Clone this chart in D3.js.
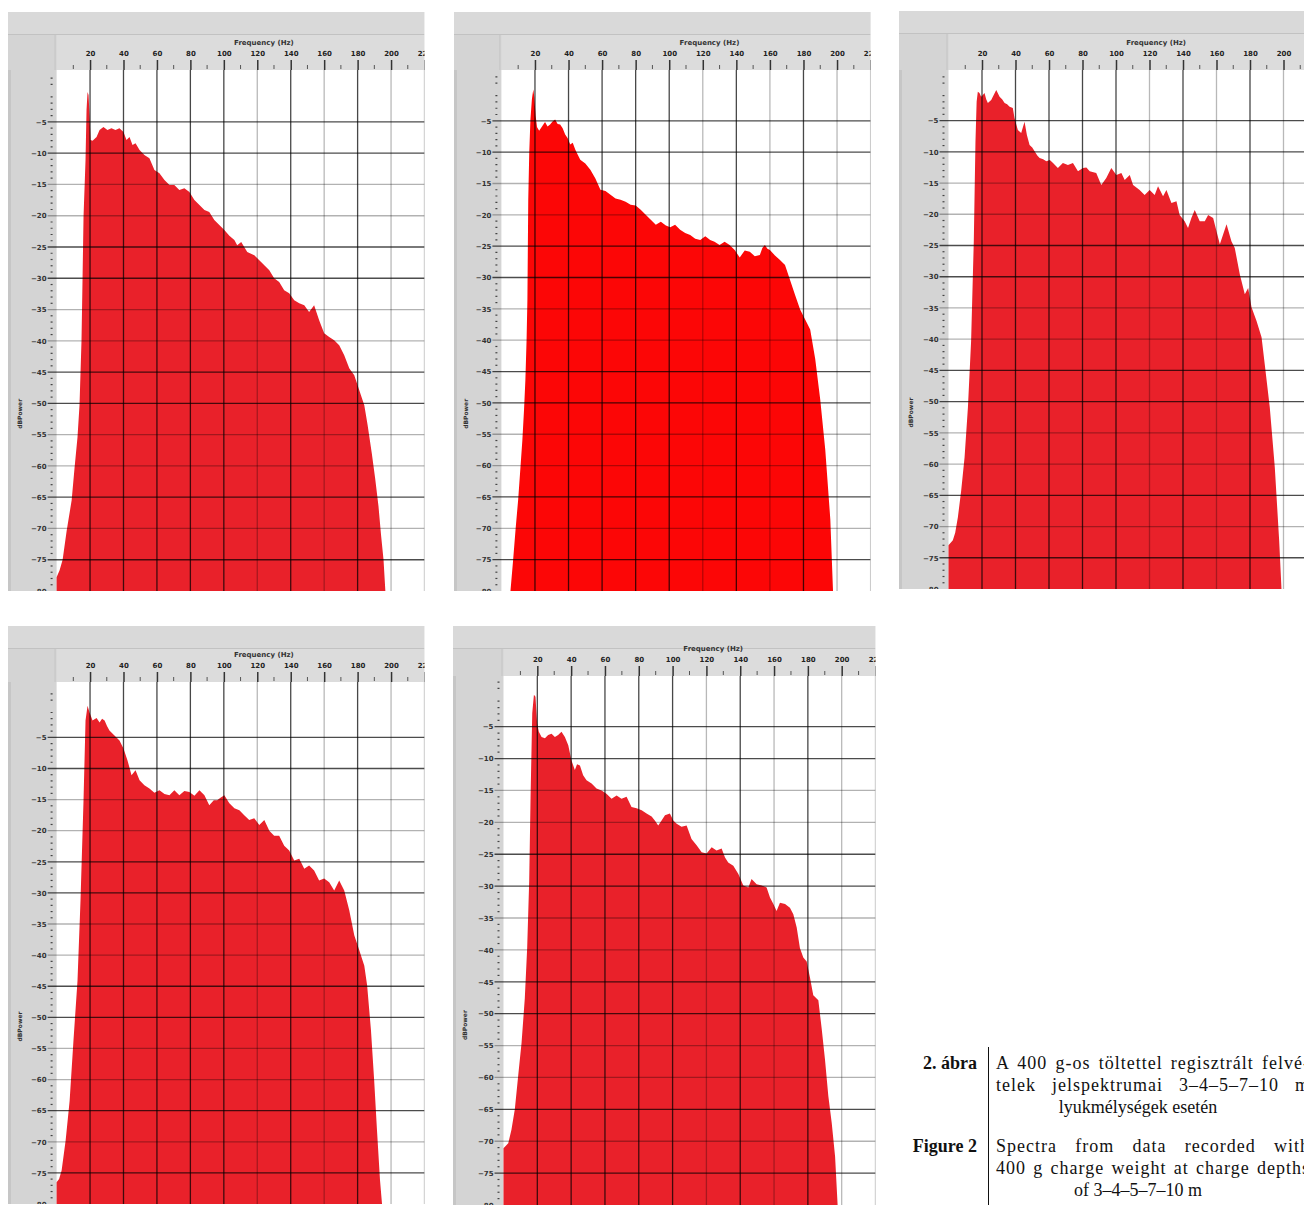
<!DOCTYPE html>
<html>
<head>
<meta charset="utf-8">
<script src="https://cdn.jsdelivr.net/npm/d3@7"></script>
<style>
  body { margin: 0; background: #fff; }
  svg { display: block; }
</style>
</head>
<body>
<script>
// spectra, [frequency Hz, dB power]
let spectrum3m = [[0,-77.8],[1.8,-76.7],[3.6,-75],[6,-70.4],[9,-65.5],[10.7,-60.4],[12.5,-55.4],[13.7,-50.3],[14.3,-45.2],[14.9,-39.9],[15.5,-30.3],[16.1,-20.2],[17.3,-11.1],[17.9,-3.1],[18.5,-0.2],[19.1,-0.7],[19.7,-3.9],[20.3,-7.9],[21.5,-8],[23.9,-7.4],[25.7,-6.3],[28,-5.8],[30.4,-6.3],[32.8,-6],[35.2,-6.3],[37.6,-6],[40,-6.6],[41.8,-7.9],[43.6,-7.4],[45.4,-8.7],[47.2,-8.4],[49.6,-9.5],[52.5,-10.3],[55.5,-10.8],[58.5,-12.7],[61.5,-13.2],[64.5,-14.3],[67.5,-15.1],[70.4,-15.1],[73.4,-15.9],[76.4,-15.6],[79.4,-16.2],[82.4,-17.5],[85.4,-18.3],[88.4,-19.1],[91.3,-19.4],[94.3,-20.7],[97.3,-21.5],[100.3,-22.3],[103.3,-23.2],[106.3,-23.9],[108,-24.7],[110.4,-24.2],[114,-25.8],[118.2,-26.3],[121.2,-27.1],[124.2,-27.9],[127.2,-28.7],[130.1,-30],[133.1,-30.6],[136.1,-31.9],[139.1,-32.4],[142.1,-33.5],[145.1,-34],[148.1,-34.3],[151,-35.4],[154,-34.3],[157,-36.7],[160,-38.8],[163,-39.4],[166,-39.9],[169,-40.7],[172,-42.3],[175,-44.4],[178,-45.5],[181,-47.9],[184,-50.3],[186,-53.5],[188.5,-58],[190.5,-62],[192.5,-66.5],[194,-71],[195.5,-75],[196.6,-80]];

let spectrum4m = [[5.4,-80],[7,-75],[8.5,-70],[10,-65.4],[11.3,-60.5],[12.5,-55.9],[13.5,-51],[14.3,-46.3],[15,-40],[15.5,-33.5],[16,-17.6],[16.6,-10],[17.3,-4.8],[18.2,-1.5],[19,0],[19.6,-1.2],[20.4,-4.2],[21.2,-6],[22.5,-6.6],[24,-6],[26,-5.2],[27.5,-5.9],[29,-5.6],[30.5,-5.1],[32,-4.8],[33.5,-5.5],[35,-5.6],[36.5,-6.2],[38,-7.2],[39.5,-7.8],[41,-8.8],[42.5,-8.5],[44,-9.6],[45.5,-10.4],[47,-11.2],[50,-11.8],[53,-12.8],[56,-14.2],[59,-16],[62,-16.2],[65,-16.8],[68,-17.4],[71,-17.6],[74,-17.9],[77,-18.4],[80,-18.5],[83,-19.2],[86,-20],[89,-20.8],[92,-21.6],[95,-21.1],[98,-21.7],[100.6,-22],[103.5,-21.6],[106.5,-22.4],[109.5,-22.9],[112.5,-23.2],[115.5,-23.8],[118.5,-24],[121.5,-23.4],[124.4,-24],[127,-24.3],[130,-24.8],[133,-24.3],[136,-24.8],[139,-25.6],[142,-26.8],[145,-25.7],[148,-25.9],[151,-26.6],[154,-26.4],[155.5,-25.3],[157,-24.8],[158.5,-25.4],[160,-25.6],[163,-26.5],[166,-27.2],[169,-28],[172,-30.4],[175,-32.8],[178,-35.1],[181,-36.7],[184,-38.3],[187,-43],[190,-49.5],[193,-57.5],[196,-68.6],[197.6,-80]];

let spectrum5m = [[0,-73],[2.6,-72.2],[4,-71],[5.6,-68.5],[7.6,-64.2],[9.6,-58.9],[11.6,-50.9],[13.5,-40.3],[15.1,-24.3],[16.1,-8.4],[16.8,-2],[17.5,-0.4],[18.5,-0.6],[19.5,-1.2],[20.5,-0.9],[21.5,-0.6],[22.5,-1.6],[23.5,-2.2],[25.5,-1.7],[27,-0.9],[28.5,-0.1],[30.5,-1.2],[32,-1.6],[33.5,-2.2],[35,-2.4],[36.5,-2.8],[38.4,-3],[39.4,-4.6],[41.4,-6.5],[43.4,-7],[45.4,-5.2],[46.8,-7.3],[48.4,-8.9],[50,-9.3],[51.4,-9.9],[53,-10.6],[54.4,-11],[56.5,-11.2],[58.4,-11.5],[60.5,-11.3],[62.4,-11.8],[65.3,-12.6],[68.3,-11.8],[71.3,-12.1],[74.3,-11.8],[77.3,-13.1],[80.3,-12.6],[82.3,-12.5],[84.3,-13.1],[88.2,-13.4],[91.2,-15.3],[94.2,-14.2],[97.2,-12.6],[100.2,-13.7],[103.2,-13.4],[105.2,-14.5],[108.2,-13.7],[110.2,-15.3],[114.1,-16.1],[117.1,-16.9],[120.1,-16.1],[123.1,-16.9],[125.1,-15.5],[128.1,-17.1],[130.1,-16.1],[133.1,-18.2],[136.1,-17.9],[138,-20.1],[141,-21.1],[143,-22.2],[145,-20.6],[147,-19.3],[150,-21.1],[153,-21.1],[155,-20.1],[158,-20.6],[160,-22.7],[162,-24.8],[164,-23.2],[166,-21.6],[168.9,-24.3],[170.9,-25.4],[173.9,-29.6],[176.9,-32.8],[178.9,-31.8],[180.9,-34.9],[183.9,-37.1],[186.9,-39.7],[188.8,-44],[191.8,-50.9],[194.8,-60.5],[197.4,-72.2],[198.8,-80]];

let spectrum7m = [[0,-76.5],[1.5,-76],[3,-74.6],[5.4,-69.8],[7.8,-63.4],[10.1,-53.7],[12.5,-44.1],[14.3,-31.2],[16.1,-15.1],[17.3,-2.3],[18.5,0.1],[19.7,-1],[21.5,-2.3],[23.9,-1.9],[25.7,-2.6],[27.2,-2],[28.7,-2.3],[30.2,-3.2],[31.6,-3.9],[34.6,-4.7],[37.6,-5.5],[40,-6.8],[42.4,-8.7],[44.8,-11.1],[47.2,-10.3],[49.6,-11.9],[52.5,-12.7],[55.5,-13.2],[58.5,-13.9],[61.5,-13.5],[64.5,-14.1],[67.5,-14.3],[70.4,-13.5],[73.4,-14.3],[76.4,-13.6],[79.4,-13.8],[82.4,-14.4],[85.4,-13.5],[88.4,-14.3],[91.3,-15.9],[94,-15.1],[96,-15.1],[98,-14.7],[100.3,-14.3],[103.3,-15.6],[106.3,-16.4],[109.3,-16.7],[112.2,-17.5],[115.2,-18.3],[118.2,-18],[121.2,-19.1],[124.2,-18.3],[127.2,-20],[130.1,-20.8],[133.1,-20.8],[136.1,-22.4],[139.1,-23.2],[142.1,-24.8],[145.1,-24.5],[148.1,-26.1],[151,-25.6],[154,-26.4],[157,-28],[160,-27.7],[163,-28.3],[166,-29.6],[169,-28],[172,-29.6],[175,-32.8],[178,-36.8],[181,-39.2],[184,-41.7],[185.7,-44.9],[188,-52.1],[189.9,-60.1],[191.6,-68.2],[193.4,-76.2],[194.6,-80]];

let spectrum10m = [[0,-71.1],[2.8,-70.3],[4.7,-68.2],[6.7,-65],[8.7,-59.7],[10.7,-54.5],[12.6,-47.6],[14,-39.7],[15.2,-29.2],[16,-16.1],[17,-2.9],[18,0],[18.9,-0.3],[19.9,-4.5],[20.9,-5.8],[22.5,-6.6],[24.5,-6.8],[26.4,-6.3],[28.4,-6.1],[30.4,-6.6],[32.3,-6.3],[34.3,-5.8],[36.3,-6.6],[38.3,-7.9],[40.2,-10.3],[42.2,-11.8],[43.5,-10.9],[45.2,-11.1],[47.1,-12.6],[49.1,-13.4],[52.1,-13.9],[55,-14.7],[58,-15],[60.9,-15.5],[63.9,-16.3],[66.9,-15.8],[69.8,-16.3],[72.8,-16],[75.7,-17.6],[78.7,-17.8],[81.7,-18.1],[84.6,-18.6],[87.6,-19.1],[89.5,-19.7],[91.5,-20.5],[93.5,-19.7],[95.5,-18.9],[98.4,-18.6],[100.4,-19.7],[102.4,-20.2],[105.3,-20.7],[108.3,-20.5],[111.2,-22.6],[114.2,-23.6],[117.2,-24.7],[120.1,-24.9],[123.1,-23.9],[126,-24.4],[129,-24.1],[131,-25.5],[132.9,-26.3],[135.9,-26.8],[138.9,-28.1],[141.8,-29.9],[144.8,-30.2],[146.7,-28.9],[149.7,-29.7],[152.7,-29.9],[155.6,-30.2],[157.6,-31.8],[159.6,-32.8],[161.5,-33.9],[163.5,-32.6],[166.5,-32.8],[169.4,-33.4],[171.4,-34.4],[173.4,-36.5],[175.3,-39.7],[177.3,-41.2],[179.3,-41.8],[181.3,-44.4],[183.2,-47.1],[186.2,-47.9],[188.2,-52.4],[190.1,-57.1],[192.1,-62.9],[194.1,-67.1],[196.1,-72.4],[197.6,-80]];

let freqTicks = [20,40,60,80,100,120,140,160,180,200,220];
let dbTicks = [-5,-10,-15,-20,-25,-30,-35,-40,-45,-50,-55,-60,-65,-70,-75,-80];
let captionHu = ["A 400 g-os töltettel regisztrált felvé-", "telek jelspektrumai 3–4–5–7–10 m", "lyukmélységek esetén"];
let captionEn = ["Spectra from data recorded with", "400 g charge weight at charge depths", "of 3–4–5–7–10 m"];

// which grid lines come out dark in the scanned screenshots
let darkHz = [20,40,60,80,100,140,180];
let darkDb = [-5,-10,-25,-30,-45,-50,-65,-75];

// screen placement of each screenshot
let panels = [
    {data: spectrum3m,  fill: "#e9212a", bx: 8,   by: 12,  left: 56.6,  right: 424.5, top: 70,  bottom: 591,  ymax: 3.3},
    {data: spectrum4m,  fill: "#fc0606", bx: 454, by: 12,  left: 501.4, right: 870.6, top: 70,  bottom: 591,  ymax: 3.1},
    {data: spectrum5m,  fill: "#e9212a", bx: 899, by: 11,  left: 948.5, right: 1317,  top: 70,  bottom: 589,  ymax: 3.1},
    {data: spectrum7m,  fill: "#e9212a", bx: 8,   by: 626, left: 56.6,  right: 424.5, top: 682, bottom: 1204, ymax: 3.9},
    {data: spectrum10m, fill: "#e9212a", bx: 453, by: 626, left: 503.5, right: 875.5, top: 676, bottom: 1205, ymax: 2.95}
];

let svg = d3.select("body").append("svg").attr("width", 1304).attr("height", 1205);

panels.forEach((p, i) => {
    let x = d3.scaleLinear().domain([0, 220]).range([p.left, p.right]);
    let y = d3.scaleLinear().domain([-80, p.ymax]).range([p.bottom, p.top]);

    svg.append("clipPath").attr("id", `clip${i}`)
        .append("rect").attr("x", p.bx).attr("y", p.by)
        .attr("width", p.right - p.bx).attr("height", p.bottom - p.by);
    let g = svg.append("g").attr("clip-path", `url(#clip${i})`);

    // grey window chrome
    g.append("rect").attr("x", p.bx).attr("y", p.by).attr("width", p.right - p.bx).attr("height", p.bottom - p.by).attr("fill", "#d4d4d4");
    g.append("rect").attr("x", p.bx).attr("y", p.by).attr("width", p.right - p.bx).attr("height", 22).attr("fill", "#d9d9d9");
    g.append("line").attr("x1", p.bx).attr("x2", p.right).attr("y1", p.by + 22.5).attr("y2", p.by + 22.5).attr("stroke", "#c2c2c2");
    g.append("rect").attr("x", p.left).attr("y", p.by + 23).attr("width", p.right - p.left).attr("height", p.top - p.by - 23).attr("fill", "#dcdcdc");
    g.append("line").attr("x1", p.left - 1.5).attr("x2", p.left - 1.5).attr("y1", p.by + 23).attr("y2", p.top).attr("stroke", "#c4c4c4");
    g.append("rect").attr("x", p.bx).attr("y", p.top).attr("width", 3).attr("height", p.bottom - p.top).attr("fill", "#c6c6c6");
    g.append("rect").attr("x", p.left).attr("y", p.top).attr("width", p.right - p.left).attr("height", p.bottom - p.top).attr("fill", "#fff");

    // spectrum
    let area = d3.area()
        .x(d => x(d[0]))
        .y0(y(-80))
        .y1(d => y(d[1]))
        .curve(d3.curveLinear);
    g.append("path").attr("d", area(p.data)).attr("fill", p.fill);

    // grid drawn over the fill
    g.selectAll("line.vgrid").data(freqTicks).enter().append("line")
        .attr("class", "vgrid")
        .attr("x1", d => x(d)).attr("x2", d => x(d))
        .attr("y1", p.top).attr("y2", p.bottom)
        .attr("stroke", "#000")
        .attr("stroke-opacity", d => darkHz.includes(d) ? 0.72 : 0.28)
        .attr("stroke-width", 1.3);
    g.selectAll("line.hgrid").data(dbTicks.filter(d => d > -80)).enter().append("line")
        .attr("class", "hgrid")
        .attr("x1", p.left - 9).attr("x2", p.right)
        .attr("y1", d => y(d)).attr("y2", d => y(d))
        .attr("stroke", "#000")
        .attr("stroke-opacity", d => darkDb.includes(d) ? 0.7 : 0.3)
        .attr("stroke-width", 1.3);

    // top frequency axis
    let xAxis = d3.axisTop(x).tickValues(freqTicks).tickSize(10).tickFormat(d3.format("d"));
    let xa = g.append("g").attr("transform", `translate(0,${p.top})`).call(xAxis);
    xa.select(".domain").remove();
    xa.selectAll(".tick line").attr("stroke", "#333").attr("stroke-width", 1.5);
    xa.selectAll(".tick text").attr("dy", "-1px").attr("font-family", "DejaVu Sans, sans-serif")
        .attr("font-size", 7).attr("font-weight", "bold").attr("fill", "#222");
    let minorHz = d3.range(10, 221, 20);
    g.selectAll("line.xminor").data(minorHz).enter().append("line")
        .attr("class", "xminor")
        .attr("x1", d => x(d)).attr("x2", d => x(d))
        .attr("y1", p.top - 5).attr("y2", p.top - 1)
        .attr("stroke", "#555").attr("stroke-width", 1);
    g.append("text").attr("x", x(124)).attr("y", p.top - 25)
        .attr("text-anchor", "middle").attr("font-family", "DejaVu Sans, sans-serif")
        .attr("font-size", 7).attr("font-weight", "bold").attr("fill", "#333")
        .text("Frequency (Hz)");

    // left dB axis
    let yAxis = d3.axisLeft(y).tickValues(dbTicks).tickSize(0).tickPadding(10).tickFormat(d3.format("d"));
    let ya = g.append("g").attr("transform", `translate(${p.left},0)`).call(yAxis);
    ya.select(".domain").remove();
    ya.selectAll(".tick text").attr("font-family", "DejaVu Sans, sans-serif")
        .attr("font-size", 7).attr("font-weight", "bold").attr("fill", "#333");
    let minorDb = d3.range(-79, 3).filter(d => d % 5 !== 0);
    g.selectAll("line.yminor").data(minorDb).enter().append("line")
        .attr("class", "yminor")
        .attr("x1", p.left - 6).attr("x2", p.left - 4)
        .attr("y1", d => y(d)).attr("y2", d => y(d))
        .attr("stroke", "#444").attr("stroke-width", 1.2);
    let ly = p.top + 0.66 * (p.bottom - p.top);
    g.append("text").attr("transform", `translate(${p.bx + 14},${ly}) rotate(-90)`)
        .attr("text-anchor", "middle").attr("font-family", "DejaVu Sans, sans-serif")
        .attr("font-size", 6).attr("font-weight", "bold").attr("fill", "#333")
        .text("dBPower");
});

// caption
let cap = svg.append("g").attr("font-family", "Liberation Serif, Times New Roman, serif").attr("font-size", 18).attr("fill", "#111");
cap.append("line").attr("x1", 988.5).attr("x2", 988.5).attr("y1", 1047).attr("y2", 1205).attr("stroke", "#111").attr("stroke-width", 1);

function captionBlock(title, lines, y0) {
    cap.append("text").attr("x", 977).attr("y", y0).attr("text-anchor", "end").attr("font-weight", "bold").text(title);
    lines.forEach((t, k) => {
        let ty = y0 + k * 22;
        if (k < lines.length - 1) {
            // justify: some letter spacing, the rest between words
            let txt = cap.append("text").attr("x", 996).attr("y", ty).text(t);
            let natural = txt.node().getComputedTextLength();
            let extra = Math.max(0, 313 - natural);
            let ls = Math.min(1.0, extra * 0.8 / (t.length - 1));
            let gaps = t.split(" ").length - 1;
            let ws = Math.max(0, (extra - ls * (t.length - 1)) / gaps);
            txt.attr("letter-spacing", ls).attr("word-spacing", ws);
        } else {
            cap.append("text").attr("x", 1138).attr("y", ty).attr("text-anchor", "middle").text(t);
        }
    });
}
captionBlock("2. ábra", captionHu, 1069);
captionBlock("Figure 2", captionEn, 1152);
</script>
</body>
</html>
